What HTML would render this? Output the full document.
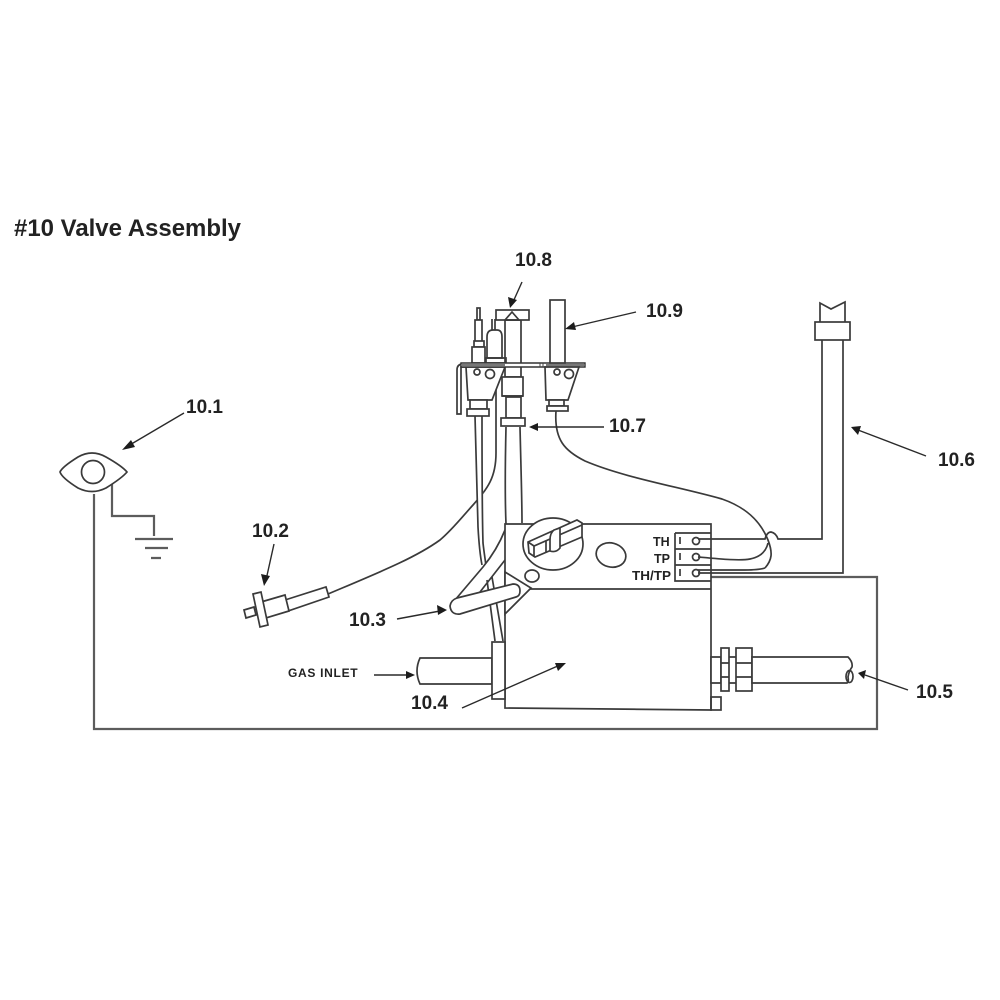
<!DOCTYPE html>
<html><head><meta charset="utf-8"><style>
html,body{margin:0;padding:0;background:#fff}
svg{display:block;filter:blur(.35px)}
text{font-family:"Liberation Sans",sans-serif;font-weight:bold;fill:#222}
.l{fill:#fff;stroke:#3a3a3a;stroke-width:1.7}
.n{fill:none;stroke:#3a3a3a;stroke-width:1.7}
.g{fill:none;stroke:#5c5c5c;stroke-width:2.2}
.a{fill:none;stroke:#2a2a2a;stroke-width:1.4}
.h{fill:#1c1c1c;stroke:none}
</style></head><body>
<svg width="1000" height="1000" viewBox="0 0 1000 1000" xmlns="http://www.w3.org/2000/svg">
<rect width="1000" height="1000" fill="#fff"/>
<text x="14" y="236" font-size="24" textLength="227" lengthAdjust="spacingAndGlyphs">#10 Valve Assembly</text>

<!-- main wire loop -->
<path class="g" d="M94 494V729H877V577H700"/>
<path class="g" d="M112 484V516H154V536"/>
<path class="g" d="M135 539H173M145 548H168M151 558H161"/>
<path class="l" d="M60 472Q62 467 78 457Q92 449 106 457Q122 466 127 472Q122 478 106 488Q92 495 78 488Q62 478 60 472Z"/>
<circle class="l" cx="93" cy="472" r="11.5"/>

<!-- piezo 10.2 -->
<path class="n" d="M328 594C380 572 415 558 440 540C452 530 463 516 473 505C480 497 486 490 490 482C494 474 496 464 496 453V387"/>
<path class="l" d="M285 600L326 587L329 597L288 611Z"/>
<path class="l" d="M261 602L285 595L289 611L266 618Z"/>
<path class="l" d="M253 594L261 592L268 625L260 627Z"/>
<path class="l" d="M244 610L254 607L256 615L246 618Z"/>

<!-- tubes from pilots down to valve -->
<path fill="#fff" d="M475 416C476 460 477 500 478 527C479 545 480 555 482 563H486C484 545 483 500 482 416Z"/>
<path class="n" d="M475 416C476 460 477 500 478 527C479 545 480 555 482 565"/>
<path class="n" d="M482 416C482 460 482 510 483 543C484 552 485 558 486 566"/>
<path class="n" d="M506 427C505 470 505 500 506 524M520 427C521 470 522 500 522 523"/>

<!-- Pipe T -->
<path class="l" d="M505 320H521V377H505Z"/>
<rect class="l" x="496" y="310" width="33" height="10"/>
<path class="n" d="M505 320L512 312L519 320H505" stroke-width="2.2"/>
<rect class="l" x="502" y="377" width="21" height="19"/>
<path class="n" d="M502 396H523" stroke-width="2.6"/>
<path class="l" d="M506 397H521V418H506Z"/>
<rect class="l" x="501" y="418" width="24" height="8"/>

<!-- left pilot -->
<rect class="l" x="477" y="308" width="3" height="12"/>
<rect class="l" x="475" y="320" width="7" height="22"/>
<rect class="l" x="474" y="341" width="10" height="6"/>
<rect class="l" x="472" y="347" width="13" height="16"/>
<path class="l" d="M487 337Q487 330 493 330H497Q502 330 502 337V358H487Z"/>
<path class="n" d="M492 319V330M495 319V330"/>
<path class="n" d="M486 358H506V363H486Z" stroke-width="2.2"/>
<path class="l" d="M457 414V370Q457 364 463 364H470V367H461V414Z"/>
<path class="l" d="M466 367H505L492 400H468Z"/>
<circle class="l" cx="477" cy="372" r="3"/>
<circle class="l" cx="490" cy="374" r="4.5"/>
<rect class="l" x="470" y="400" width="17" height="9"/>
<rect class="l" x="467" y="409" width="22" height="7"/>

<!-- plate -->
<path d="M461 363H585V367H461Z" fill="#fff" stroke="#333" stroke-width="1.4"/>
<path d="M462 365H505M546 365H585" stroke="#666" stroke-width="1.8"/>
<path d="M540 363V367M543 363V367" stroke="#444" stroke-width="1"/>

<!-- right pilot -->
<rect class="l" x="550" y="300" width="15" height="63"/>
<path class="l" d="M545 367H579L568 400H546Z"/>
<circle class="l" cx="557" cy="372" r="3"/>
<circle class="l" cx="569" cy="374" r="4.5"/>
<rect class="l" x="549" y="400" width="15" height="6"/>
<rect class="l" x="547" y="406" width="21" height="5"/>
<path class="n" d="M556 411C554 440 565 451 585 461C625 478 680 487 722 499C745 507 760 520 768 540C773 553 772 560 765 568"/>

<!-- bracket + lower tubes -->
<path fill="#fff" d="M455 600L483 567Q497 550 505 530V560L480 592Z"/>
<path class="n" d="M455 600L483 567Q497 550 505 530M480 592L505 560"/>
<path class="n" d="M487 580L495 641M492 577L503 641"/>

<!-- valve box -->
<path class="l" d="M505 524H711V710L505 708Z"/>
<path class="n" d="M505 589H711"/>
<rect class="n" x="711" y="697" width="10" height="13"/>

<!-- knob -->
<ellipse class="l" cx="553" cy="544" rx="30" ry="26"/>
<path class="l" d="M528 542L577 520L582 523V537L535 557L529 553Z"/>
<path class="n" d="M528 542L534 546L582 525M534 546V557M546 541V552"/>
<path class="l" d="M550 540Q550 533 554 530L560 528V548Q556 553 550 551Z"/>

<ellipse class="l" cx="611" cy="555" rx="15" ry="12" transform="rotate(15 611 555)"/>
<ellipse class="l" cx="532" cy="576" rx="7" ry="6"/>

<!-- terminal -->
<path class="n" d="M675 533H711M675 549H711M675 565H711M675 533V581H711"/>
<path class="n" d="M680 537V544M680 553V560M680 569V576" stroke-width="1.8"/>
<circle class="l" cx="696" cy="541" r="3.5"/>
<circle class="l" cx="696" cy="557" r="3.5"/>
<circle class="l" cx="696" cy="573" r="3.5"/>
<text x="653" y="546" font-size="12.5">TH</text>
<text x="654" y="563" font-size="12.5">TP</text>
<text x="632" y="580" font-size="12.5" textLength="39" lengthAdjust="spacingAndGlyphs">TH/TP</text>

<!-- thermocouple wires -->
<path class="n" d="M698 539H765Q767 532 771 532Q776 533 778 539H822V340"/>
<path class="n" d="M698 557C720 559 740 561 750 559C760 557 766 552 768 543"/>
<path class="n" d="M698 570H745C755 570 762 569 765 568"/>
<path class="n" d="M698 573H843V340"/>
<path class="n" d="M820 322V303L831 309L845 302V322"/>
<rect class="l" x="815" y="322" width="35" height="18"/>

<!-- handle -->
<path class="l" d="M505 572L531 588L505 614Z"/>
<path class="l" d="M457 598L513 584Q520 584 520 591Q520 596 516 597L460 614Q451 615 450 606Q451 600 457 598Z"/>

<!-- gas inlet pipe -->
<path class="l" d="M420 658H492V684H420Q414 671 420 658Z"/>
<rect class="l" x="492" y="642" width="13" height="57"/>

<!-- outlet -->
<path class="l" d="M711 657H721V683H711Z"/>
<rect class="l" x="721" y="648" width="8" height="43"/>
<path class="n" d="M721 663H729M721 677H729M729 657H736M729 683H736"/>
<rect class="l" x="736" y="648" width="16" height="43"/>
<path class="n" d="M736 663H752M736 677H752"/>
<path class="l" d="M752 657H848Q853 662 852 667Q849 671 848 677Q849 682 847 683H752Z"/>
<ellipse class="n" cx="849.5" cy="676.5" rx="3.5" ry="6"/>

<!-- labels & arrows -->
<g font-size="19">
<text x="186" y="413">10.1</text>
<text x="252" y="537">10.2</text>
<text x="349" y="626">10.3</text>
<text x="411" y="709">10.4</text>
<text x="916" y="698">10.5</text>
<text x="938" y="466">10.6</text>
<text x="609" y="432">10.7</text>
<text x="515" y="266">10.8</text>
<text x="646" y="317">10.9</text>
</g>
<text x="288" y="677" font-size="12" letter-spacing=".7">GAS INLET</text>

<path class="a" d="M184 413L128 446"/><path class="h" d="M122 450L131 440L135 447Z"/>
<path class="a" d="M274 544L266 580"/><path class="h" d="M264 586L261 574L270 576Z"/>
<path class="a" d="M397 619L440 611"/><path class="h" d="M447 610L437 605L438 615Z"/>
<path class="a" d="M462 708L560 665"/><path class="h" d="M566 663L555 663L558 671Z"/>
<path class="a" d="M374 675H408"/><path class="h" d="M415 675L406 671V679Z"/>
<path class="a" d="M908 690L865 675"/><path class="h" d="M858 673L866 670L864 679Z"/>
<path class="a" d="M926 456L858 430"/><path class="h" d="M851 427L861 426L858 435Z"/>
<path class="a" d="M604 427H536"/><path class="h" d="M529 427L538 423V431Z"/>
<path class="a" d="M522 282L513 302"/><path class="h" d="M510 308L508 297L517 300Z"/>
<path class="a" d="M636 312L572 327"/><path class="h" d="M565 329L574 322L576 330Z"/>
</svg>
</body></html>
